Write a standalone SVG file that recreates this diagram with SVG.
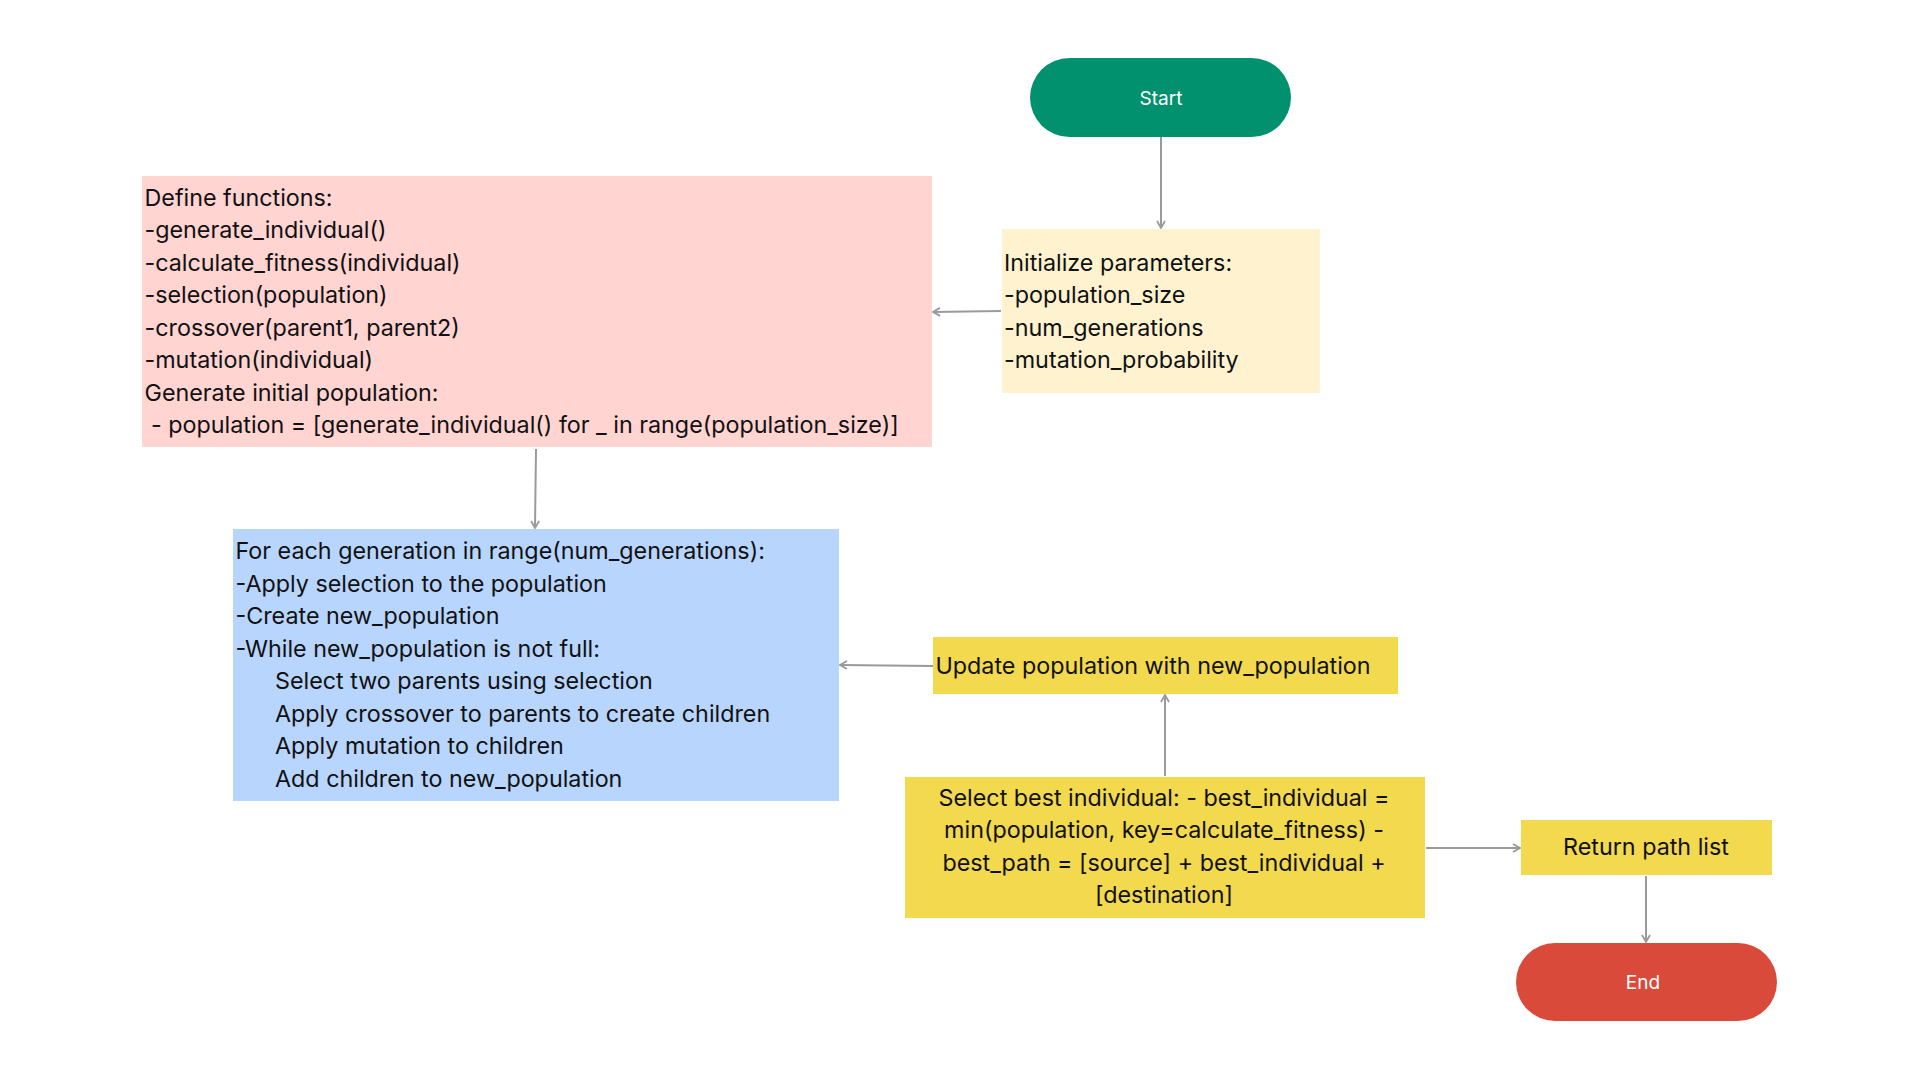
<svg xmlns="http://www.w3.org/2000/svg" width="1920" height="1080" viewBox="0 0 1920 1080">
<style>
.t{font-family:Inter,"Noto Sans","Liberation Sans",sans-serif;font-size:23.3px;fill:#111}
.w{font-family:Inter,"Noto Sans","Liberation Sans",sans-serif;font-size:19px;fill:#fff}
.c{stroke:#9a9a9a;stroke-width:2;fill:none;marker-end:url(#ah)}
</style>
<defs>
<marker id="ah" viewBox="0 0 10 10" refX="9" refY="5" markerWidth="10" markerHeight="10" markerUnits="userSpaceOnUse" orient="auto">
<path d="M2,1 L9,5 L2,9" fill="none" stroke="#9a9a9a" stroke-width="1.8"/>
</marker>
</defs>
<rect width="1920" height="1080" fill="#fff"/>
<g id="connectors">
<path class="c" d="M1161,137 L1161,228"/>
<path class="c" d="M1001,311 L933,312"/>
<path class="c" d="M536,449 L535,528"/>
<path class="c" d="M933,666 L840,665"/>
<path class="c" d="M1165,776 L1165,695"/>
<path class="c" d="M1426,848 L1520,848"/>
<path class="c" d="M1646,876 L1646,942"/>
</g>
<g id="start">
<rect x="1030" y="58" width="261" height="79" rx="39.5" fill="#02916E"/>
<text class="w" x="1161" y="105" text-anchor="middle">Start</text>
</g>
<g id="init">
<rect x="1002" y="229" width="318" height="164" fill="#FFF3CF"/>
<text class="t" x="1004" y="270.5">Initialize parameters:</text>
<text class="t" x="1004" y="303">-population_size</text>
<text class="t" x="1004" y="335.5">-num_generations</text>
<text class="t" x="1004" y="368">-mutation_probability</text>
</g>
<g id="define">
<rect x="142" y="176" width="790" height="271" fill="#FFD4D1"/>
<text class="t" x="144.5" y="205.5">Define functions:</text>
<text class="t" x="144.5" y="238">-generate_individual()</text>
<text class="t" x="144.5" y="270.5">-calculate_fitness(individual)</text>
<text class="t" x="144.5" y="303">-selection(population)</text>
<text class="t" x="144.5" y="335.5">-crossover(parent1, parent2)</text>
<text class="t" x="144.5" y="368">-mutation(individual)</text>
<text class="t" x="144.5" y="400.5">Generate initial population:</text>
<text class="t" x="144.5" y="433" xml:space="preserve"> - population = [generate_individual() for _ in range(population_size)]</text>
</g>
<g id="loop">
<rect x="233" y="529" width="606" height="272" fill="#B8D5FD"/>
<text class="t" x="235.5" y="559">For each generation in range(num_generations):</text>
<text class="t" x="235.5" y="591.5">-Apply selection to the population</text>
<text class="t" x="235.5" y="624">-Create new_population</text>
<text class="t" x="235.5" y="656.5">-While new_population is not full:</text>
<text class="t" x="275" y="689">Select two parents using selection</text>
<text class="t" x="275" y="721.5">Apply crossover to parents to create children</text>
<text class="t" x="275" y="754">Apply mutation to children</text>
<text class="t" x="275" y="786.5">Add children to new_population</text>
</g>
<g id="update">
<rect x="933" y="637" width="465" height="57" fill="#F3D94D"/>
<text class="t" x="935.5" y="673.5">Update population with new_population</text>
</g>
<g id="select">
<rect x="905" y="777" width="520" height="141" fill="#F3D94D"/>
<text class="t" x="1164" y="805.5" text-anchor="middle">Select best individual: - best_individual =</text>
<text class="t" x="1164" y="838" text-anchor="middle">min(population, key=calculate_fitness) -</text>
<text class="t" x="1164" y="870.5" text-anchor="middle">best_path = [source] + best_individual +</text>
<text class="t" x="1164" y="903" text-anchor="middle">[destination]</text>
</g>
<g id="return">
<rect x="1521" y="820" width="251" height="55" fill="#F3D94D"/>
<text class="t" x="1646" y="854.5" text-anchor="middle">Return path list</text>
</g>
<g id="end">
<rect x="1516" y="943" width="261" height="78" rx="39" fill="#D94A3A"/>
<text class="w" x="1643" y="989" text-anchor="middle">End</text>
</g>
</svg>
